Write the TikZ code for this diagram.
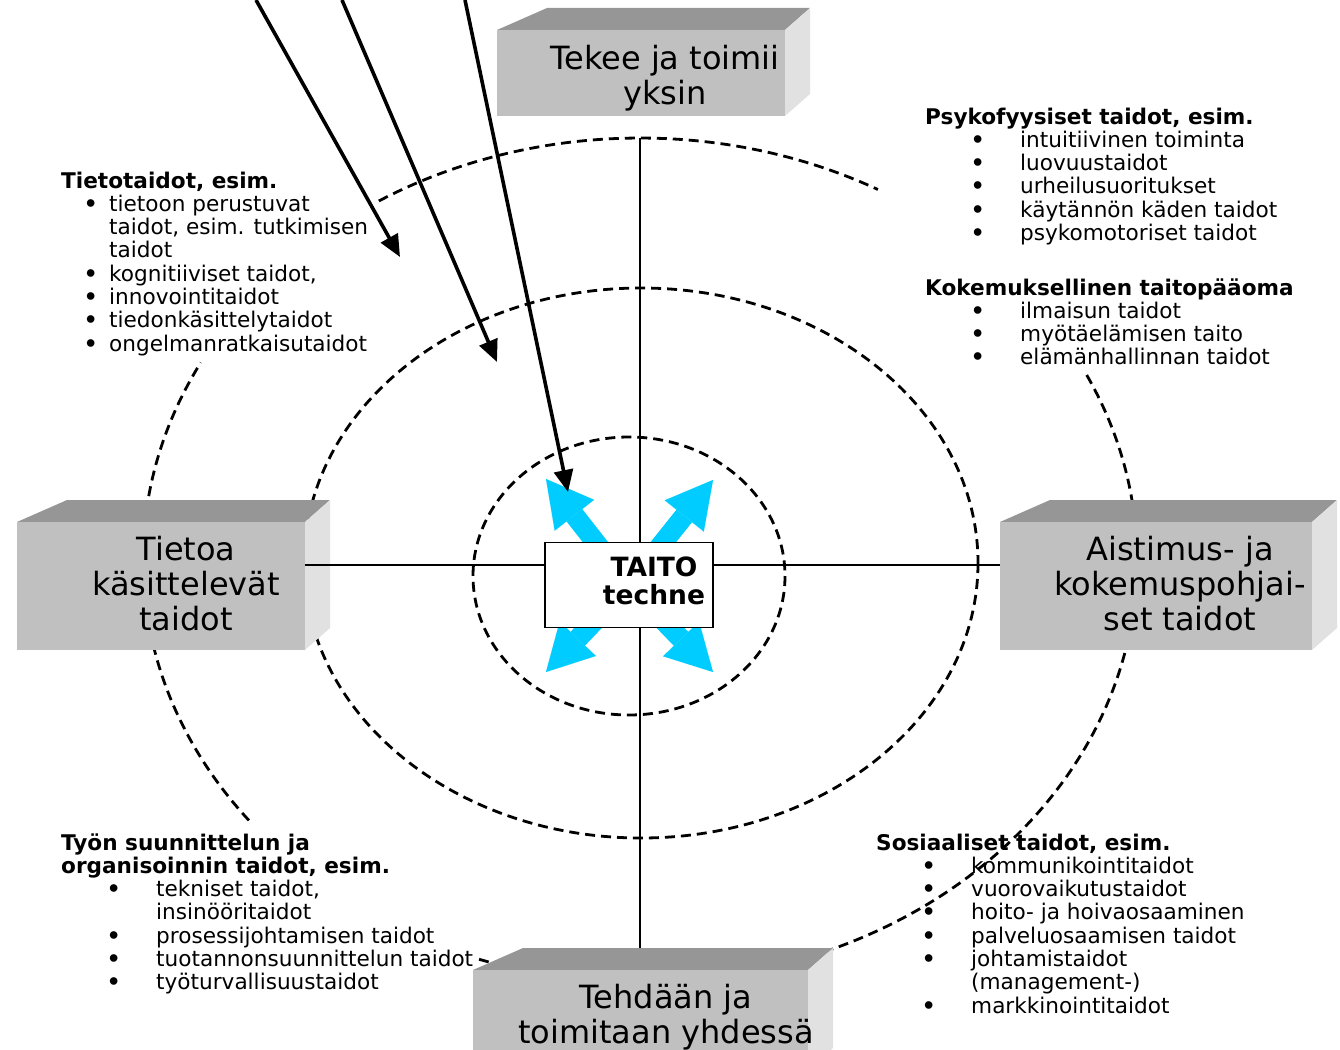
\documentclass[tikz,border=0pt]{standalone}
\usepackage{fontspec}
\setmainfont{DejaVu Sans}
\usetikzlibrary{arrows.meta}

\definecolor{boxfront}{RGB}{192,192,192}
\definecolor{boxtop}{RGB}{150,150,150}
\definecolor{boxside}{RGB}{225,225,225}
\definecolor{taitoblue}{RGB}{0,204,255}

\tikzset{
  dashline/.style={dash pattern=on 10pt off 6pt, line width=2.8pt},
  axisline/.style={line width=1.4pt},
  boxface/.style={fill=boxfront, inner sep=0pt},
  boxlabel/.style={inner sep=0pt, anchor=base, font=\fontsize{32}{35}\selectfont},
  listtext/.style={inner sep=0pt, anchor=base west, font=\fontsize{21.6}{23}\selectfont},
  taitobox/.style={draw=black, fill=white, line width=1.4pt, minimum width=168pt,
    minimum height=85pt, inner sep=0pt, font=\fontsize{26.5}{28}\selectfont\bfseries},
  blackarrow/.style={line width=3.6pt, -{Triangle[length=22pt,width=19pt]}},
  bluearrow/.style={taitoblue, line width=20pt, -{Triangle[length=46pt,width=50pt,line width=0.01pt]}}
}

% grey 3d box: name, front face x1,y1,x2,y2
\newcommand{\cuboid}[5]{%
  \fill[boxtop] (#2,#3) -- ++(50,-22) -- (#4+25,#3-22) -- (#4,#3) -- cycle;
  \fill[boxside] (#4,#3) -- ++(25,-22) -- (#4+25,#5-22) -- (#4,#5) -- cycle;
  \node[boxface, minimum width=#4-#2, minimum height=#5-#3, anchor=north west] (#1) at (#2,#3) {};
}
\newcommand{\lines}[1]{\begin{tabular}[t]{@{}c@{}}#1\end{tabular}}
\newcommand{\blist}[3]{\begin{tabular}[t]{@{}p{#1}@{}p{#2}@{}l@{}}#3\end{tabular}}
\newcommand{\hd}[1]{\multicolumn{3}{@{}l@{}}{\textbf{#1}}}
\newcommand{\bul}{\textbf{\textbullet}}

\begin{document}
\begin{tikzpicture}[x=1pt,y=-1pt]
\useasboundingbox (0,0) rectangle (1340,1049);
\coordinate (outerc) at (640,560);
\coordinate (midc) at (641,563);
\coordinate (innerc) at (629,576);
\coordinate (taitoc) at (629,585);
\coordinate (axisN) at (640,138);
\coordinate (axisS) at (640,948);
\coordinate (axisW) at (305,565);
\coordinate (axisE) at (1000,565);
% rings
\draw[dashline] (innerc) ellipse [x radius=156, y radius=139];
\draw[dashline] (midc) ellipse [x radius=337, y radius=275];
\draw[dashline] ([shift={(-121.7:497 and 422)}]outerc) arc[start angle=-121.7, end angle=-61.4, x radius=497, y radius=422];
\draw[dashline] ([shift={(-26:497 and 422)}]outerc) arc[start angle=-26, end angle=75, x radius=497, y radius=422];
\draw[dashline] ([shift={(104:497 and 422)}]outerc) arc[start angle=104, end angle=109.5, x radius=497, y radius=422];
\draw[dashline] ([shift={(141.9:497 and 422)}]outerc) arc[start angle=141.9, end angle=207.9, x radius=497, y radius=422];
% boxes
\cuboid{yksin}{497}{30}{785}{116}
\cuboid{tietoa}{17}{522}{305}{650}
\cuboid{aistimus}{1000}{522}{1312}{650}
\cuboid{yhdessa}{473}{970}{808}{1070}
% axes
\draw[axisline] (axisN) -- (axisS);
\draw[axisline] (axisW) -- (axisE);
% blue arrows out of the centre
\coordinate (nwtip) at (546,479);
\coordinate (netip) at (713,480);
\coordinate (swtip) at (546,672);
\coordinate (setip) at (713,672);
\draw[bluearrow] (taitoc) -- (nwtip);
\draw[bluearrow] (taitoc) -- (netip);
\draw[bluearrow] (taitoc) -- (swtip);
\draw[bluearrow] (taitoc) -- (setip);
\node[taitobox] (taito) at (taitoc) {\hspace*{50pt}\lines{TAITO\\techne}};
% arrows from above
\coordinate (src1) at (256,0);
\coordinate (src2) at (342,0);
\coordinate (src3) at (465,0);
\coordinate (tip1) at (400,257);
\coordinate (tip2) at (497,362);
\coordinate (tip3) at (568,492);
\draw[blackarrow] (src1) -- (tip1);
\draw[blackarrow] (src2) -- (tip2);
\draw[blackarrow] (src3) -- (tip3);
% box texts
\node[boxlabel] (yksinlbl) at (665,70) {\lines{Tekee ja toimii\\yksin}};
\node[boxlabel] (tietoalbl) at (186,560) {\lines{Tietoa\\käsittelevät\\taidot}};
\node[boxlabel] (aistimuslbl) at (1180,560) {\lines{Aistimus- ja\\kokemuspohjai-\\set taidot}};
\node[boxlabel] (yhdessalbl) at (666,1008) {\lines{Tehdään ja\\toimitaan yhdessä}};
% lists
\node[listtext] (tieto) at (61,188) {\blist{22.6pt}{25.4pt}{%
\hd{Tietotaidot, esim.}\\
& \bul & tietoon perustuvat\\
& & taidot, esim. tutkimisen\\
& & taidot\\
& \bul & kognitiiviset taidot,\\
& \bul & innovointitaidot\\
& \bul & tiedonkäsittelytaidot\\
& \bul & ongelmanratkaisutaidot}};
\node[listtext] (psyko) at (925,124) {\blist{45.6pt}{49.4pt}{%
\hd{Psykofyysiset taidot, esim.}\\
& \bul & intuitiivinen toiminta\\
& \bul & luovuustaidot\\
& \bul & urheilusuoritukset\\
& \bul & käytännön käden taidot\\
& \bul & psykomotoriset taidot}};
\node[listtext] (kokemus) at (925,295) {\blist{45.6pt}{49.4pt}{%
\hd{Kokemuksellinen taitopääoma}\\
& \bul & ilmaisun taidot\\
& \bul & myötäelämisen taito\\
& \bul & elämänhallinnan taidot}};
\node[listtext] (tyon) at (61,850) {\blist{45.6pt}{49.4pt}{%
\hd{Työn suunnittelun ja}\\
\hd{organisoinnin taidot, esim.}\\
& \bul & tekniset taidot,\\
& & insinööritaidot\\
& \bul & prosessijohtamisen taidot\\
& \bul & tuotannonsuunnittelun taidot\\
& \bul & työturvallisuustaidot}};
\node[listtext] (sosiaali) at (876,850) {\blist{45.6pt}{49.4pt}{%
\hd{Sosiaaliset taidot, esim.}\\
& \bul & kommunikointitaidot\\
& \bul & vuorovaikutustaidot\\
& \bul & hoito- ja hoivaosaaminen\\
& \bul & palveluosaamisen taidot\\
& \bul & johtamistaidot\\
& & (management-)\\
& \bul & markkinointitaidot}};
\end{tikzpicture}
\end{document}
